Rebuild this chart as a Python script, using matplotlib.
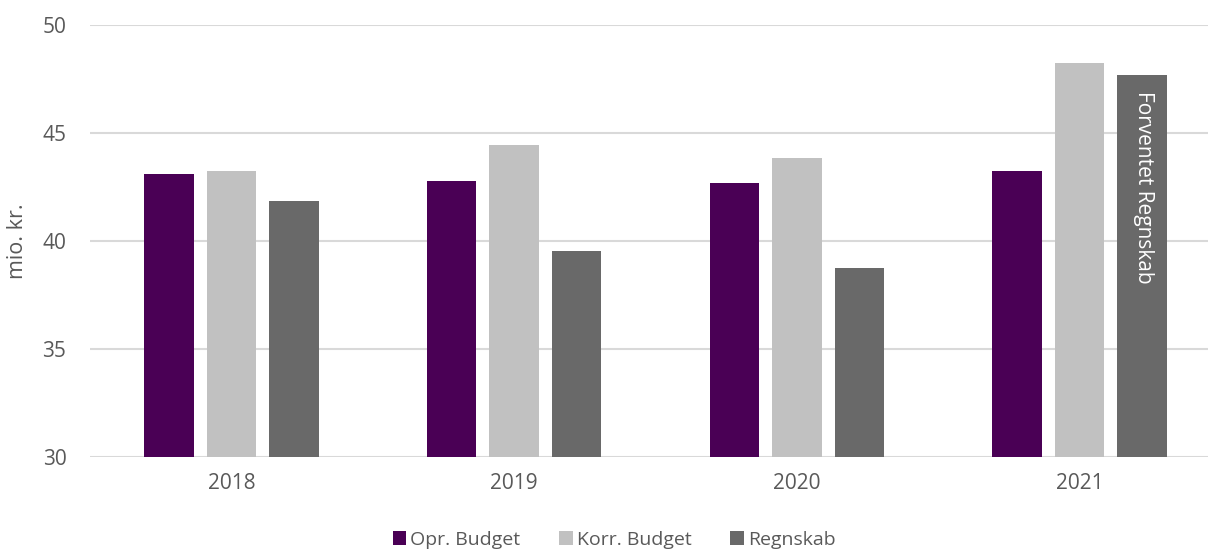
"""Budget vs. regnskab per år, grupperede søjler."""
import matplotlib.pyplot as plt
from matplotlib.patches import Patch
import numpy as np

YEARS = ['2018', '2019', '2020', '2021']
SERIES = ['Opr. Budget', 'Korr. Budget', 'Regnskab']
OPR_BUDGET = [43.10, 42.78, 42.69, 43.23]
KORR_BUDGET = [43.23, 44.44, 43.84, 48.24]
REGNSKAB = [41.85, 39.54, 38.75, 47.70]
NOTE = 'Forventet Regnskab'
COLORS = ['#4a0055', '#c1c1c1', '#696969']
TEXT = '#595959'

plt.rcParams['font.family'] = ['Open Sans', 'DejaVu Sans']

fig = plt.figure(figsize=(12.08, 5.52), dpi=100)
ax = fig.add_axes([90 / 1208, 94.7 / 552, 1 - 90 / 1208, 432.3 / 552])

x = np.arange(len(YEARS))
width = 0.175
step = 0.221
for i, vals in enumerate([OPR_BUDGET, KORR_BUDGET, REGNSKAB]):
    ax.bar(x + (i - 1) * step, np.array(vals) - 30, bottom=30, width=width,
           color=COLORS[i], zorder=2)

# note inside the last bar
ax.text(x[-1] + step + 0.005, REGNSKAB[-1] - 0.75, NOTE, rotation=-90,
        color='white', ha='center', va='top', fontsize=15, zorder=3)

ax.set_ylim(30, 50)
ax.set_xlim(-0.5, 3.454)
ax.set_yticks([30, 35, 40, 45, 50])
ax.set_xticks(x)
ax.set_xticklabels(YEARS)
ax.yaxis.grid(True, color='#d9d9d9', linewidth=1.5, zorder=0)
ax.set_axisbelow(True)
for s in ax.spines.values():
    s.set_visible(False)
ax.tick_params(axis='both', length=0, labelsize=15, colors=TEXT)
ax.tick_params(axis='y', pad=17)
ax.tick_params(axis='x', pad=11)
ax.set_ylabel('mio. kr.', fontsize=15.5, color=TEXT, labelpad=10)

handles = [Patch(facecolor=c) for c in COLORS]
fig.legend(handles, SERIES, loc='center', bbox_to_anchor=(614 / 1208, 12 / 552),
           ncol=3, frameon=False, fontsize=14, labelcolor=TEXT,
           handlelength=0.7, handleheight=0.7, handletextpad=0.2,
           columnspacing=2.0)

fig.savefig('out.png', dpi=100)
